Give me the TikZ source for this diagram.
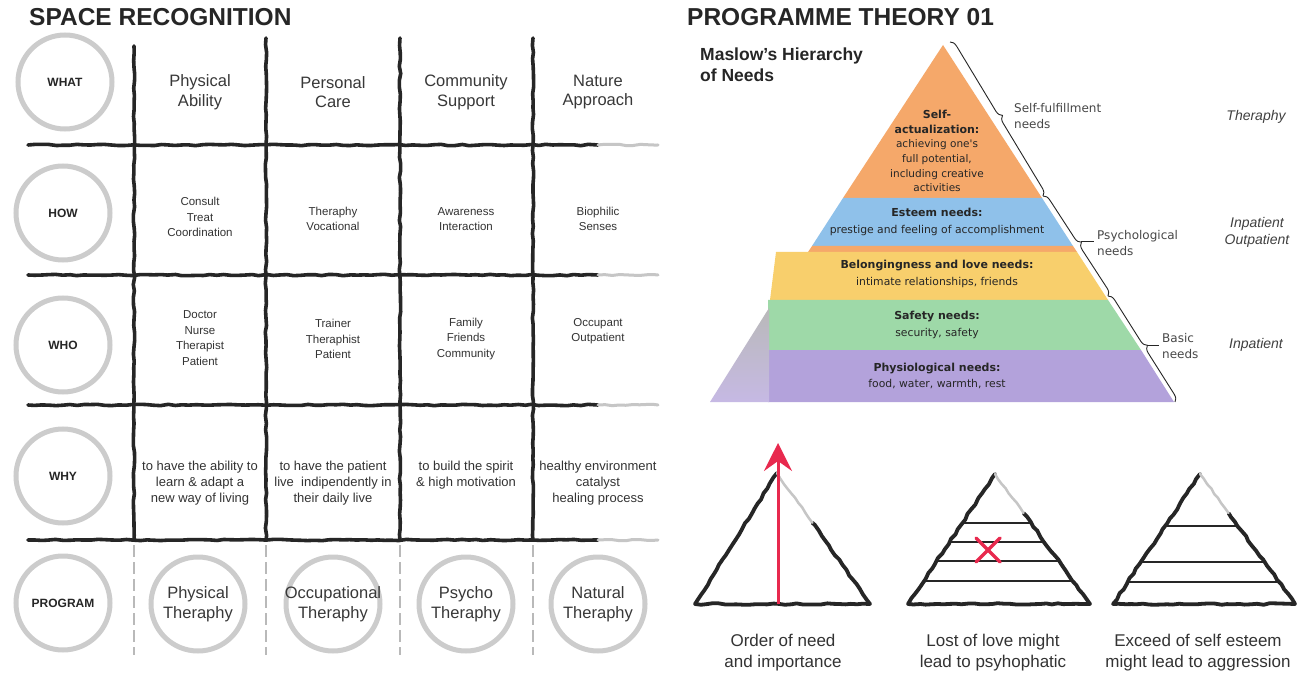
\documentclass[tikz,border=0pt]{standalone}
\usepackage{fontspec}
\setmainfont{Liberation Sans}
\newfontfamily\djv{DejaVu Sans}
\usetikzlibrary{decorations.pathmorphing,decorations.pathreplacing,arrows.meta,calc}
\definecolor{orng}{HTML}{F5A86A}
\definecolor{blu}{HTML}{8FC1EA}
\definecolor{ylw}{HTML}{F8CF6C}
\definecolor{grn}{HTML}{9ED9A8}
\definecolor{prp}{HTML}{B3A2DB}
\definecolor{ink}{HTML}{262626}
\definecolor{rd}{HTML}{E8294E}
\newcommand\pbf{\bfseries\fontsize{11}{14.6}\selectfont}
\begin{document}
\begin{tikzpicture}[x=1pt,y=-1pt,
  sk/.style={draw=ink,line width=3.6pt,line cap=round,decorate,decoration={random steps,segment length=7pt,amplitude=0.7pt}},
  skg/.style={draw=gray!45,line width=3pt,line cap=round,decorate,decoration={random steps,segment length=7pt,amplitude=0.7pt}},
  skf/.style={draw=gray!55,line width=2.2pt,dash pattern=on 12pt off 5pt},
  ring/.style={circle,draw=gray!40,line width=5pt,minimum size=94pt,inner sep=0pt},
  lab/.style={font=\bfseries\fontsize{12}{14}\selectfont,text=ink,inner sep=0pt},
  hd/.style={font=\fontsize{16.5}{19.5}\selectfont,align=center,text=black!78,inner sep=0pt},
  sm/.style={font=\fontsize{11.5}{15.6}\selectfont,align=center,text=black!80,inner sep=0pt},
  wy/.style={font=\fontsize{13}{16}\selectfont,align=center,text=black!80,inner sep=0pt},
  ttl/.style={font=\bfseries\fontsize{24.5}{28}\selectfont,text=ink,inner sep=0pt,anchor=west},
  pyr/.style={font=\djv\fontsize{10.5}{14.6}\selectfont,align=center,text=ink,inner sep=0pt},
  pyr2/.style={font=\djv\fontsize{10.8}{16.5}\selectfont,align=center,text=ink,inner sep=0pt},
  nl/.style={font=\djv\fontsize{12}{16}\selectfont,align=left,text=black!72,inner sep=0pt,anchor=west},
  itl/.style={font=\itshape\fontsize{14}{17}\selectfont,align=center,text=black!75,inner sep=0pt},
  brc/.style={draw=ink,line width=0.9pt,decorate,decoration={brace,amplitude=7pt}},
  tri/.style={draw=ink,line width=3.8pt,line cap=round,line join=round,decorate,decoration={random steps,segment length=6pt,amplitude=0.8pt}},
  trif/.style={draw=gray!45,line width=2.5pt,line cap=round,decorate,decoration={random steps,segment length=6pt,amplitude=0.8pt}},
  stripe/.style={draw=ink,line width=2.2pt,line cap=round},
  rx/.style={draw=rd,line width=3.5pt,line cap=round},
  rarr/.style={draw=rd,line width=3pt,-{Stealth[length=28pt,width=28pt,inset=10pt]}},
  bt/.style={font=\fontsize{17}{21}\selectfont,align=center,text=black!80,inner sep=0pt}
]
\pgfmathsetseed{7}
\useasboundingbox (0,0) rectangle (1308,684);
\fill[white] (0,0) rectangle (1308,684);

% ---------------- titles
\node[ttl] (t1) at (29,17) {SPACE RECOGNITION};
\node[ttl] (t2) at (687,17) {PROGRAMME THEORY 01};

% ---------------- grid
\foreach \x/\ys in {134/46,266/38,400/38,533/38}{
  \draw[sk] (\x,\ys) -- (\x,540);
  \draw[skf] (\x,545) -- (\x,655);
}
\foreach \y in {145,275,405,540}{
  \draw[sk] (28,\y) -- (598,\y);
  \draw[skg] (598,\y) -- (658,\y);
}

% ---------------- row label circles
\node[ring] (cWhat) at (65,82) {};
\node[lab] (lWhat) at (cWhat) {WHAT};
\node[ring] (cHow) at (63,213) {};
\node[lab] (lHow) at (cHow) {HOW};
\node[ring] (cWho) at (63,345) {};
\node[lab] (lWho) at (cWho) {WHO};
\node[ring] (cWhy) at (63,476) {};
\node[lab] (lWhy) at (cWhy) {WHY};
\node[ring] (cProg) at (63,603) {};
\node[lab] (lProg) at (cProg) {PROGRAM};

% ---------------- row 1
\node[hd] (w1) at (200,92) {Physical\\Ability};
\node[hd] (w2) at (333,92) {Personal\\Care};
\node[hd] (w3) at (466,92) {Community\\Support};
\node[hd] (w4) at (598,92) {Nature\\Approach};
% ---------------- row 2
\node[sm] (h1) at (200,217) {Consult\\Treat\\Coordination};
\node[sm] (h2) at (333,219) {Theraphy\\Vocational};
\node[sm] (h3) at (466,219) {Awareness\\Interaction};
\node[sm] (h4) at (598,219) {Biophilic\\Senses};
% ---------------- row 3
\node[sm] (o1) at (200,338) {Doctor\\Nurse\\Therapist\\Patient};
\node[sm] (o2) at (333,339) {Trainer\\Theraphist\\Patient};
\node[sm] (o3) at (466,339) {Family\\Friends\\Community};
\node[sm] (o4) at (598,331) {Occupant\\Outpatient};
% ---------------- row 4
\node[wy] (y1) at (200,483) {to have the ability to\\learn \& adapt a\\new way of living};
\node[wy] (y2) at (333,483) {to have the patient\\live \ indipendently in\\their daily live};
\node[wy] (y3) at (466,475) {to build the spirit\\\& high motivation};
\node[wy] (y4) at (598,483) {healthy environment\\catalyst\\healing process};
% ---------------- row 5
\node[ring] (rPhys) at (198,604) {};
\node[hd] (pPhys) at (rPhys) {Physical\\Theraphy};
\node[ring] (rOcc) at (333,604) {};
\node[hd] (pOcc) at (rOcc) {Occupational\\Theraphy};
\node[ring] (rPsy) at (466,604) {};
\node[hd] (pPsy) at (rPsy) {Psycho\\Theraphy};
\node[ring] (rNat) at (598,604) {};
\node[hd] (pNat) at (rNat) {Natural\\Theraphy};

% ---------------- Maslow pyramid
\node[anchor=north west,font=\bfseries\fontsize{17.5}{21}\selectfont,align=left,inner sep=0pt,text=ink] (mt) at (700,48) {Maslow's Hierarchy\\of Needs};

\fill[orng] (943,45) -- (1042,198) -- (843,198) -- cycle;
\fill[blu] (843,198) -- (1042,198) -- (1073,246) -- (812,246) -- cycle;
\fill[orng] (812,246) -- (1073,246) -- (1077,252) -- (808,252) -- cycle;
\fill[ylw] (776,252) -- (1077,252) -- (1108,300) -- (770,300) -- cycle;
\fill[grn] (768,300) -- (1108,300) -- (1141,350) -- (768,350) -- cycle;
\fill[prp] (768,350) -- (1141,350) -- (1174,402) -- (768,402) -- cycle;
\shade[top color=gray!55,bottom color=prp!75!white] (769,308) -- (769,402) -- (710,402) -- cycle;

\node[pyr] (sa) at (937,151) {{\pbf Self-}\\{\pbf actualization:}\\achieving one's\\full potential,\\including creative\\activities};
\node[pyr2] (es) at (937,222) {{\pbf Esteem needs:}\\prestige and feeling of accomplishment};
\node[pyr2] (be) at (937,274) {{\pbf Belongingness and love needs:}\\intimate relationships, friends};
\node[pyr2] (sf) at (937,325) {{\pbf Safety needs:}\\security, safety};
\node[pyr2] (ph) at (937,376) {{\pbf Physiological needs:}\\food, water, warmth, rest};

\coordinate (b0) at (950,42);
\coordinate (b1) at (1043,196);
\coordinate (b2) at (1108,296);
\coordinate (b3) at (1175,402);
\draw[brc] (b0) -- (b1);
\draw[brc] (b1) -- (b2);
\draw[brc] (b2) -- (b3);

\node[nl] (lsf) at (1014,116) {Self-fulfillment\\needs};
\node[nl] (lps) at (1097,243) {Psychological\\needs};
\node[nl] (lba) at (1162,346) {Basic\\needs};
\coordinate (tp) at (1081,241);
\coordinate (tb) at (1147,345);
\draw[ink,line width=0.8pt] (tp) -- ++(13,0);
\draw[ink,line width=0.8pt] (tb) -- ++(12,0);

\node[itl] (r1) at (1256,117) {Theraphy};
\node[itl] (r2) at (1257,232) {Inpatient\\Outpatient};
\node[itl] (r3) at (1256,345) {Inpatient};

% ---------------- sketch triangles
\coordinate (A1) at (777,473);
\coordinate (L1) at (695,604);
\coordinate (R1) at (870,604);
\draw[tri] (A1) -- (L1) -- (R1);
\draw[tri] (R1) -- ($(R1)!0.62!(A1)$);
\draw[trif] ($(R1)!0.62!(A1)$) -- (A1);
\coordinate (arB) at (778,604);
\coordinate (arT) at (778,443);
\draw[rarr] (arB) -- (arT);

\coordinate (A2) at (995,474);
\coordinate (L2) at (908,604);
\coordinate (R2) at (1090,604);
\draw[tri] (A2) -- (L2) -- (R2);
\draw[tri] (R2) -- ($(R2)!0.7!(A2)$);
\draw[trif] ($(R2)!0.7!(A2)$) -- (A2);
\foreach \f in {0.377,0.523,0.669,0.823}{
  \draw[stripe] ($(A2)!\f!(L2)$) -- ($(A2)!\f!(R2)$);
}
\coordinate (xc) at (988,550);
\draw[rx] ($(xc)+(-12,-12)$) -- ($(xc)+(12,12)$);
\draw[rx] ($(xc)+(12,-12)$) -- ($(xc)+(-12,12)$);

\coordinate (A3) at (1200,474);
\coordinate (L3) at (1113,604);
\coordinate (R3) at (1295,604);
\draw[tri] (A3) -- (L3) -- (R3);
\draw[tri] (R3) -- ($(R3)!0.7!(A3)$);
\draw[trif] ($(R3)!0.7!(A3)$) -- (A3);
\foreach \f in {0.40,0.677,0.831}{
  \draw[stripe] ($(A3)!\f!(L3)$) -- ($(A3)!\f!(R3)$);
}

\node[bt] (c1) at (783,653) {Order of need\\and importance};
\node[bt] (c2) at (993,653) {Lost of love might\\lead to psyhophatic};
\node[bt] (c3) at (1198,653) {Exceed of self esteem\\might lead to aggression};
\end{tikzpicture}
\end{document}
